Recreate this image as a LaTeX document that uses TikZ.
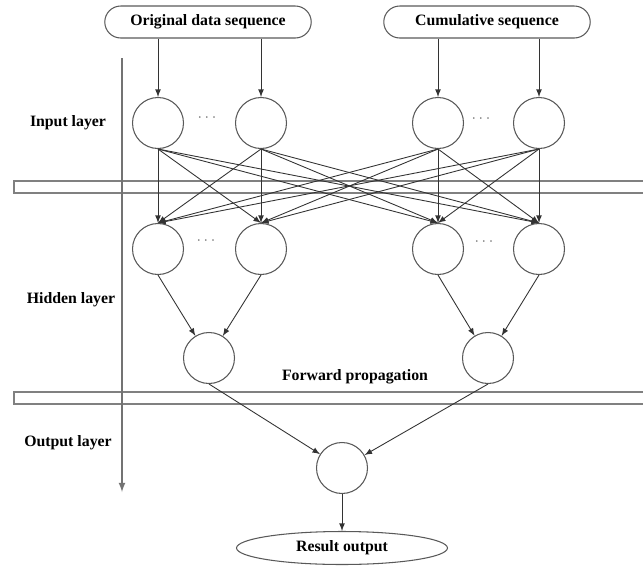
\documentclass[tikz,border=0pt]{standalone}
\usepackage{fontspec}
\setmainfont{Liberation Serif}
\usepackage{tikz}
\usetikzlibrary{%
  shapes.geometric,%
  shapes.misc,%
  arrows%
}

\begin{document}
\begin{tikzpicture}[x=0.02cm,y=-0.02cm,>=latex,
  font=\fontsize{9}{11}\selectfont\bfseries,
  neuron/.style={circle,draw=black!65,line width=0.6pt,minimum size=1.02cm,inner sep=0pt},
  seqbox/.style={rounded rectangle,draw=black!65,line width=0.6pt,minimum width=4.2cm,minimum height=0.64cm,inner sep=1pt},
  resbox/.style={ellipse,draw=black!65,line width=0.6pt,minimum width=4.22cm,minimum height=0.66cm,inner sep=1pt},
  dotsnode/.style={text=black!55,inner sep=0pt},
  layerbar/.style={draw=black!50,line width=0.9pt},
  link/.style={->,black!80,line width=0.5pt}]
\useasboundingbox (0,0) rectangle (643,569);

% the two bars between the layers
\draw[layerbar] (14,181) rectangle (660,193);
\draw[layerbar] (14,392) rectangle (660,404);

% layer axis
\coordinate (axtop) at (122,58);
\coordinate (axend) at (122,492);
\draw[->,draw=black!55,line width=0.8pt] (axtop) -- (axend);

\node (l1) at (68,123) {Input layer};
\node (l2) at (71,300) {Hidden layer};
\node (l3) at (68,443) {Output layer};
\node (fp) at (355,377) {Forward propagation};

\node[seqbox] (01) at (208,22) {Original data sequence};
\node[seqbox] (02) at (487,22) {Cumulative sequence};

\node[neuron] (11) at (158,123) {};
\node[neuron] (12) at (261,123) {};
\node[neuron] (13) at (438,123) {};
\node[neuron] (14) at (539,123) {};
\node[dotsnode] (d1) at (207,118) {$\cdots$};
\node[dotsnode] (d2) at (481,119) {$\cdots$};

\node[neuron] (21) at (158,249) {};
\node[neuron] (22) at (261,249) {};
\node[neuron] (23) at (438,249) {};
\node[neuron] (24) at (539,249) {};
\node[dotsnode] (d3) at (206,241) {$\cdots$};
\node[dotsnode] (d4) at (484,242) {$\cdots$};

\node[neuron] (31) at (209,358) {};
\node[neuron] (32) at (488,358) {};

\node[neuron] (41) at (342,468) {};

\node[resbox] (51) at (342,548) {Result output};

\path[link] (11 |- 01.south) edge (11)
            (12 |- 01.south) edge (12)
            (13 |- 02.south) edge (13)
            (14 |- 02.south) edge (14);

% every input unit feeds every hidden unit
\path[link] (11.south) edge (21.north)
            (11.south) edge (22.north)
            (11.south) edge (23.north)
            (11.south) edge (24.north)
            (12.south) edge (21.north)
            (12.south) edge (22.north)
            (12.south) edge (23.north)
            (12.south) edge (24.north)
            (13.south) edge (21.north)
            (13.south) edge (22.north)
            (13.south) edge (23.north)
            (13.south) edge (24.north)
            (14.south) edge (21.north)
            (14.south) edge (22.north)
            (14.south) edge (23.north)
            (14.south) edge (24.north);

\path[link] (21.south) edge (31)
            (22.south) edge (31)
            (23.south) edge (32)
            (24.south) edge (32);

\path[link] (31.south) edge (41)
            (32.south) edge (41)
            (41) edge (51);
\end{tikzpicture}
\end{document}
